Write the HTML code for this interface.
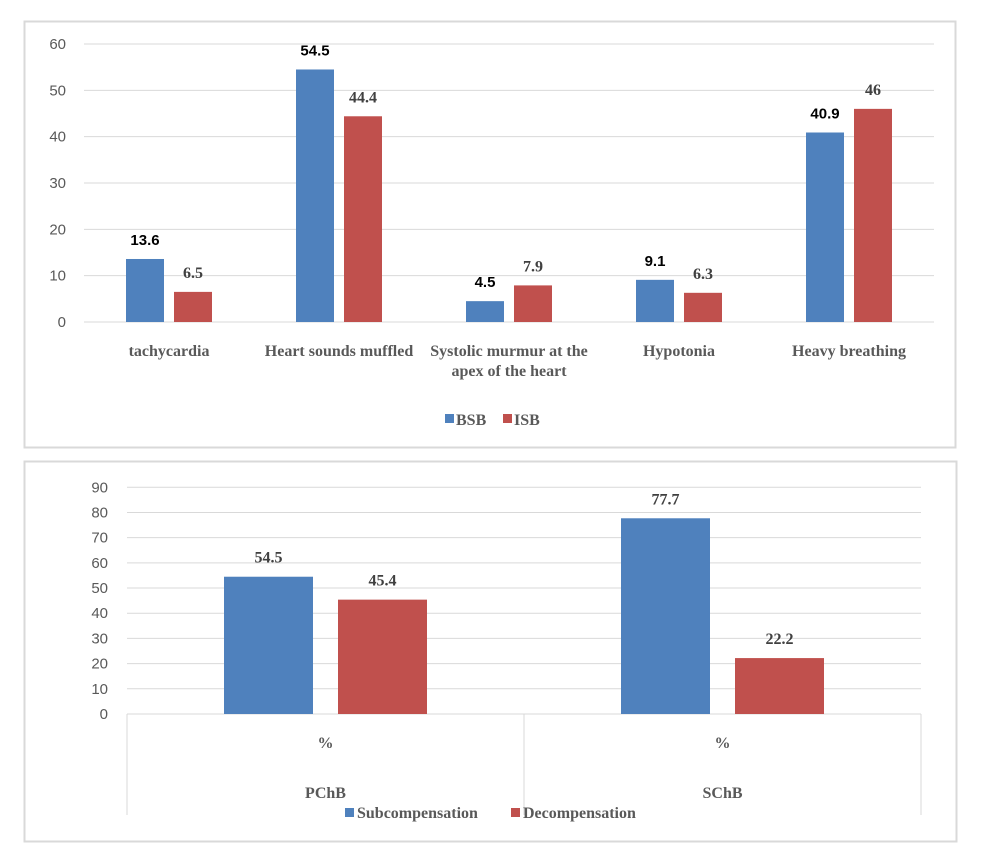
<!DOCTYPE html>
<html><head><meta charset="utf-8"><style>
html,body{margin:0;padding:0;background:#fff;}
body{width:982px;height:851px;position:relative;overflow:hidden;}
svg{position:absolute;left:0;top:0;}
</style></head><body>
<svg id="chart" width="982" height="851" xmlns="http://www.w3.org/2000/svg"></svg>
<script>
// Chart 1 data
const cats1 = ["tachycardia","Heart sounds muffled","Systolic murmur at the|apex of the heart","Hypotonia","Heavy breathing"];
const bsb = [13.6, 54.5, 4.5, 9.1, 40.9];
const isb = [6.5, 44.4, 7.9, 6.3, 46];
const bsbLabels = ["13.6","54.5","4.5","9.1","40.9"];
const isbLabels = ["6.5","44.4","7.9","6.3","46"];
const ticks1 = [0,10,20,30,40,50,60];
// Chart 2 data
const cats2 = ["PChB","SChB"];
const subc = [54.5, 77.7];
const decomp = [45.4, 22.2];
const subLabels = ["54.5","77.7"];
const decLabels = ["45.4","22.2"];
const ticks2 = [0,10,20,30,40,50,60,70,80,90];

const NS="http://www.w3.org/2000/svg";
const svg=document.getElementById('chart');
function mk(tag,attrs,parent,text){const e=document.createElementNS(NS,tag);for(const k in attrs)e.setAttribute(k,attrs[k]);if(text!==undefined)e.textContent=text;(parent||svg).appendChild(e);return e;}
const BLUE="#4f81bd",RED="#c0504d",GRID="#d9d9d9";
const SERIF='"Liberation Serif", serif', SANS='"Liberation Sans", sans-serif';

// Panels
let p=mk('rect',{x:24.5,y:21.5,width:931,height:426,fill:'#fff',stroke:'#d9d9d9','stroke-width':2});

p=mk('rect',{x:24.5,y:461.5,width:932,height:380,fill:'#fff',stroke:'#d9d9d9','stroke-width':2});


// ---------- Chart 1 ----------
const x0a=84,x1a=934,yb1=322,yt1=44,max1=60;
const y1=v=>yb1-(v/max1)*(yb1-yt1);
const cw1=(x1a-x0a)/cats1.length;
ticks1.forEach(t=>{
  const l=mk('line',{x1:x0a,x2:x1a,y1:y1(t),y2:y1(t),stroke:GRID,'stroke-width':1});
  
  const tx=mk('text',{x:66,y:y1(t)+5,'text-anchor':'end','font-family':SANS,'font-size':15,fill:'#595959'},null,String(t));
  
});
const bw1=38,gap1=10;
cats1.forEach((c,i)=>{
  const cx=x0a+cw1*(i+0.5);
  const bx=cx-gap1/2-bw1, rx=cx+gap1/2;
  let r=mk('rect',{x:bx,y:y1(bsb[i]),width:bw1,height:yb1-y1(bsb[i]),fill:BLUE});
  
  r=mk('rect',{x:rx,y:y1(isb[i]),width:bw1,height:yb1-y1(isb[i]),fill:RED});
  
  let t=mk('text',{x:bx+bw1/2,y:y1(bsb[i])-14,'text-anchor':'middle','font-family':SANS,'font-weight':'bold','font-size':15,fill:'#000'},null,bsbLabels[i]);
  
  t=mk('text',{x:rx+bw1/2,y:y1(isb[i])-14,'text-anchor':'middle','font-family':SERIF,'font-weight':'bold','font-size':16,fill:'#404040'},null,isbLabels[i]);
  
  c.split('|').forEach((ln,k)=>{
    const ct=mk('text',{x:cx,y:356+k*20,'text-anchor':'middle','font-family':SERIF,'font-weight':'bold','font-size':16,fill:'#595959'},null,ln);
    
  });
});
let lg=mk('rect',{x:445,y:414,width:9,height:9,fill:BLUE});
lg=mk('text',{x:456,y:425,'font-family':SERIF,'font-weight':'bold','font-size':16,fill:'#595959'},null,'BSB');
lg=mk('rect',{x:503,y:414,width:9,height:9,fill:RED});
lg=mk('text',{x:514,y:425,'font-family':SERIF,'font-weight':'bold','font-size':16,fill:'#595959'},null,'ISB');

// ---------- Chart 2 ----------
const x0b=127,x1b=921,yb2=714,yt2=487.3,max2=90;
const y2=v=>yb2-(v/max2)*(yb2-yt2);
const cw2=(x1b-x0b)/cats2.length;
ticks2.forEach(t=>{
  const l=mk('line',{x1:x0b,x2:x1b,y1:y2(t),y2:y2(t),stroke:GRID,'stroke-width':1});
  
  const tx=mk('text',{x:108,y:y2(t)+5,'text-anchor':'end','font-family':SANS,'font-size':15,fill:'#595959'},null,String(t));
  
});
for(let i=0;i<=cats2.length;i++){
  const l=mk('line',{x1:x0b+cw2*i,x2:x0b+cw2*i,y1:yb2,y2:815,stroke:GRID,'stroke-width':1});
  
}
const bw2=89,gap2=25;
cats2.forEach((c,i)=>{
  const cx=x0b+cw2*(i+0.5);
  const bx=cx-gap2/2-bw2, rx=cx+gap2/2;
  let r=mk('rect',{x:bx,y:y2(subc[i]),width:bw2,height:yb2-y2(subc[i]),fill:BLUE});
  
  r=mk('rect',{x:rx,y:y2(decomp[i]),width:bw2,height:yb2-y2(decomp[i]),fill:RED});
  
  let t=mk('text',{x:bx+bw2/2,y:y2(subc[i])-14,'text-anchor':'middle','font-family':SERIF,'font-weight':'bold','font-size':16,fill:'#404040'},null,subLabels[i]);
  
  t=mk('text',{x:rx+bw2/2,y:y2(decomp[i])-14,'text-anchor':'middle','font-family':SERIF,'font-weight':'bold','font-size':16,fill:'#404040'},null,decLabels[i]);
  
  t=mk('text',{x:cx,y:748,'text-anchor':'middle','font-family':SERIF,'font-weight':'bold','font-size':16,fill:'#595959'},null,'%');
  
  t=mk('text',{x:cx,y:798,'text-anchor':'middle','font-family':SERIF,'font-weight':'bold','font-size':16,fill:'#595959'},null,c);
  
});
lg=mk('rect',{x:345,y:808,width:9,height:9,fill:BLUE});
lg=mk('text',{x:357,y:818,'font-family':SERIF,'font-weight':'bold','font-size':16,fill:'#595959'},null,'Subcompensation');
lg=mk('rect',{x:511,y:808,width:9,height:9,fill:RED});
lg=mk('text',{x:523,y:818,'font-family':SERIF,'font-weight':'bold','font-size':16,fill:'#595959'},null,'Decompensation');
</script>
</body></html>
